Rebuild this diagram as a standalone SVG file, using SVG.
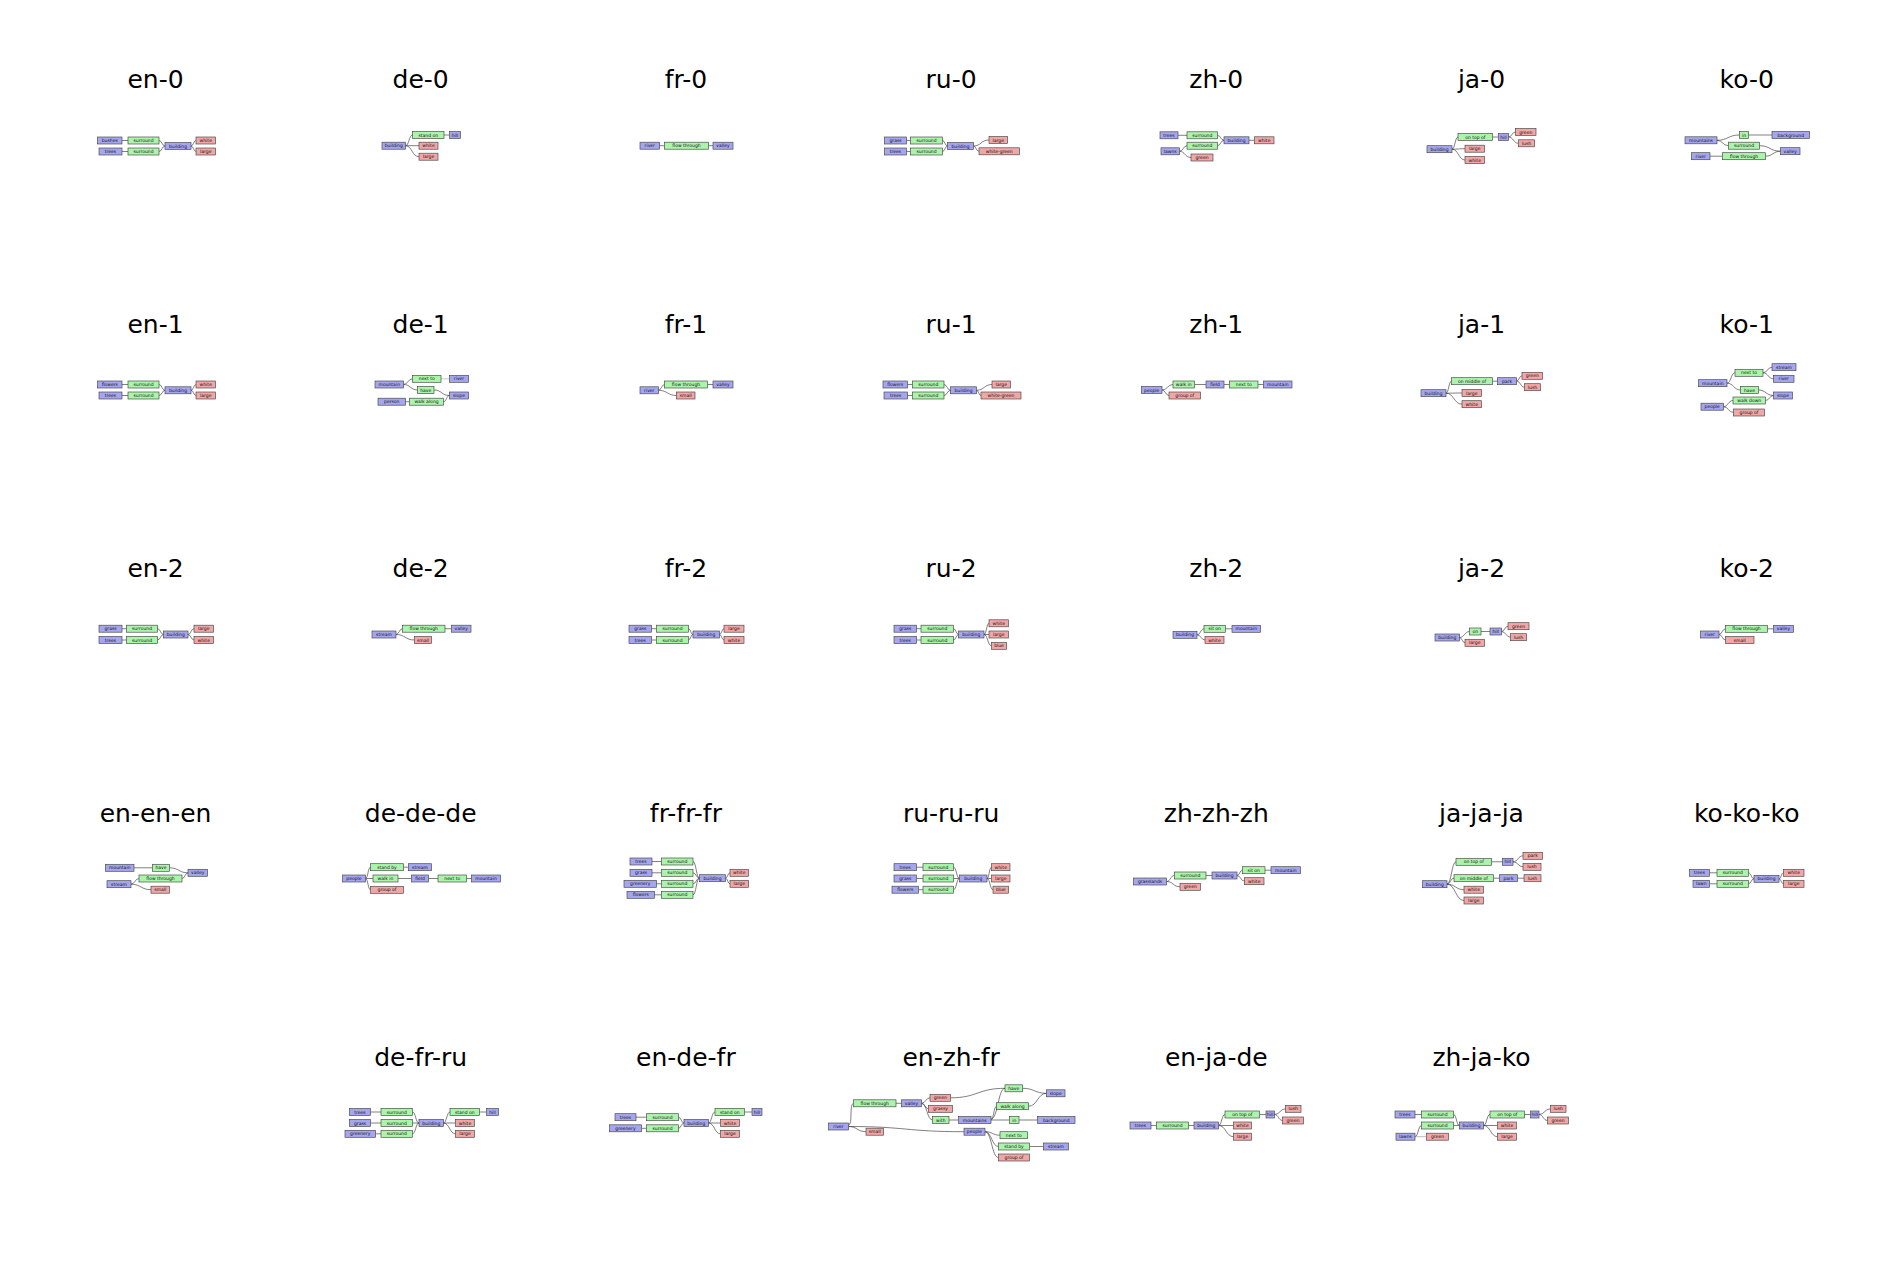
<svg xmlns="http://www.w3.org/2000/svg" width="1903" height="1269" viewBox="0 0 1903 1269">
<style>
.t{font-family:"DejaVu Sans",sans-serif;font-size:25px;text-anchor:middle;fill:#000}
.n rect{stroke:#444;stroke-width:.65}
.b rect{fill:#a6a6f0}
.g rect{fill:#abf5ab}
.r rect{fill:#f2a6a6}
.n text{font-family:"DejaVu Sans",sans-serif;font-size:4.5px;text-anchor:middle;fill:#111}
#connectors path{fill:none;stroke:#3a3a3a;stroke-width:.65}
</style>
<rect width="1903" height="1269" fill="#fff"/>
<g id="titles">
<text class="t" x="155.5" y="88">en-0</text><text class="t" x="420.7" y="88">de-0</text><text class="t" x="685.9" y="88">fr-0</text><text class="t" x="951.1" y="88">ru-0</text><text class="t" x="1216.3" y="88">zh-0</text><text class="t" x="1481.5" y="88">ja-0</text><text class="t" x="1746.7" y="88">ko-0</text>
<text class="t" x="155.5" y="332.5">en-1</text><text class="t" x="420.7" y="332.5">de-1</text><text class="t" x="685.9" y="332.5">fr-1</text><text class="t" x="951.1" y="332.5">ru-1</text><text class="t" x="1216.3" y="332.5">zh-1</text><text class="t" x="1481.5" y="332.5">ja-1</text><text class="t" x="1746.7" y="332.5">ko-1</text>
<text class="t" x="155.5" y="577">en-2</text><text class="t" x="420.7" y="577">de-2</text><text class="t" x="685.9" y="577">fr-2</text><text class="t" x="951.1" y="577">ru-2</text><text class="t" x="1216.3" y="577">zh-2</text><text class="t" x="1481.5" y="577">ja-2</text><text class="t" x="1746.7" y="577">ko-2</text>
<text class="t" x="155.5" y="821.5">en-en-en</text><text class="t" x="420.7" y="821.5">de-de-de</text><text class="t" x="685.9" y="821.5">fr-fr-fr</text><text class="t" x="951.1" y="821.5">ru-ru-ru</text><text class="t" x="1216.3" y="821.5">zh-zh-zh</text><text class="t" x="1481.5" y="821.5">ja-ja-ja</text><text class="t" x="1746.7" y="821.5">ko-ko-ko</text>
<text class="t" x="420.7" y="1066">de-fr-ru</text><text class="t" x="685.9" y="1066">en-de-fr</text><text class="t" x="951.1" y="1066">en-zh-fr</text><text class="t" x="1216.3" y="1066">en-ja-de</text><text class="t" x="1481.5" y="1066">zh-ja-ko</text>
</g>
<g id="connectors">
<path d="M122 140.5H128M122 151.5H128M159 140.5C162 140.5 162 146 165 146M159 151.5C162 151.5 162 146 165 146M191 146C193.5 146 193.5 140.5 196 140.5M191 146C193.5 146 193.5 151.5 196 151.5"/>
<path d="M405.5 145.7C409 145.7 409 135 412.5 135M444 135H449.5M405.5 145.7H419M405.5 145.7C412 145.7 412 156.7 419 156.7"/>
<path d="M659.5 145.7H664.5M708.5 145.7H713"/>
<path d="M906.5 140.5H910.5M906.5 151.5H910.5M942.5 140.5C945 140.5 945 146 947.5 146M942.5 151.5C945 151.5 945 146 947.5 146M973.5 146C981 146 981 140 989 140M973.5 146C976 146 976 151.3 979 151.3"/>
<path d="M1178 135.3H1187M1217.5 135.3C1220.7 135.3 1220.7 140.3 1224 140.3M1217.5 145.7C1220.7 145.7 1220.7 140.3 1224 140.3M1249 140.3H1254.5M1179.5 151.3C1183.2 151.3 1183.2 145.7 1187 145.7M1179.5 151.3C1185 151.3 1185 157.5 1191 157.5"/>
<path d="M1452 149.2C1455 149.2 1455 137 1458 137M1492.5 137H1498.5M1508.5 137C1512 137 1512 132 1515.5 132M1508.5 137C1513.5 137 1513.5 143.3 1518.5 143.3M1452 149.2C1458.5 149.2 1458.5 148.7 1465 148.7M1452 149.2C1458.5 149.2 1458.5 160 1465 160"/>
<path d="M1717 140.3C1728 140.3 1728 135 1739.5 135M1748.5 135H1772M1717 140.3C1722.7 140.3 1722.7 145.7 1728.5 145.7M1759.5 145.7C1770 145.7 1770 151.2 1780.5 151.2M1710 156.2H1722.5M1765.5 156.2C1773 156.2 1773 151.2 1780.5 151.2"/>
<path d="M122 384.5H128M122 395.5H128M159 384.5C162 384.5 162 390.3 165 390.3M159 395.5C162 395.5 162 390.3 165 390.3M191 390.3C193.5 390.3 193.5 384.5 196 384.5M191 390.3C193.5 390.3 193.5 395.5 196 395.5"/>
<path d="M403.5 384.5C408 384.5 408 378.8 412.5 378.8M403.5 384.5C410.5 384.5 410.5 390 417.5 390M434 390C441.7 390 441.7 395.5 449.5 395.5M405.5 401.7H409.5M443.5 401.7C446.5 401.7 446.5 395.5 449.5 395.5"/>
<path d="M441 378.8H449.5" style="stroke:#aaa"/>
<path d="M658.5 390.3C661.5 390.3 661.5 384.5 664.5 384.5M707.5 384.5H713M658.5 390.3C667.5 390.3 667.5 395.5 676.5 395.5"/>
<path d="M907.5 384.5H912.5M907.5 395.5H912.5M944 384.5C947.2 384.5 947.2 390.3 950.5 390.3M944 395.5C947.2 395.5 947.2 390.3 950.5 390.3M976.5 390.3C984.2 390.3 984.2 384.5 992 384.5M976.5 390.3C978.7 390.3 978.7 395.5 981 395.5"/>
<path d="M1162 390C1167.5 390 1167.5 384.5 1173 384.5M1194.5 384.5H1206M1224 384.5H1229.5M1258 384.5H1263.5M1162 390C1165.5 390 1165.5 395.5 1169 395.5"/>
<path d="M1446 393.2C1448.7 393.2 1448.7 381.2 1451.5 381.2M1492.5 381.2H1497.5M1516.5 381.2C1519.2 381.2 1519.2 375.8 1522 375.8M1516.5 381.2C1520.5 381.2 1520.5 387.2 1524.5 387.2M1446 393.2C1454 393.2 1454 393 1462 393M1446 393.2C1454 393.2 1454 404.2 1462 404.2"/>
<path d="M1727 383.2C1731 383.2 1731 372.8 1735 372.8M1763 372.8C1767.5 372.8 1767.5 367.2 1772 367.2M1763 372.8C1768.2 372.8 1768.2 378.8 1773.5 378.8M1727 383.2C1733.7 383.2 1733.7 390 1740.5 390M1758.5 390C1766 390 1766 395.5 1773.5 395.5M1723.5 406.7C1728.2 406.7 1728.2 400.5 1733 400.5M1765.5 400.5C1769.5 400.5 1769.5 395.5 1773.5 395.5M1723.5 406.7C1728.5 406.7 1728.5 412.5 1733.5 412.5"/>
<path d="M122 628.7H126.5M122 640H126.5M157.5 628.7C160.5 628.7 160.5 634.5 163.5 634.5M157.5 640C160.5 640 160.5 634.5 163.5 634.5M188 634.5C191 634.5 191 628.7 194 628.7M188 634.5C191 634.5 191 640 194 640"/>
<path d="M396 634.5C399.2 634.5 399.2 628.7 402.5 628.7M445 628.7H451.5M396 634.5C405.2 634.5 405.2 640 414.5 640"/>
<path d="M651.5 628.7H656.5M651.5 640H656.5M688.5 628.7C690.7 628.7 690.7 634.5 693 634.5M688.5 640C690.7 640 690.7 634.5 693 634.5M719.5 634.5C721.7 634.5 721.7 628.7 724 628.7M719.5 634.5C721.7 634.5 721.7 640 724 640"/>
<path d="M916.5 628.7H921M916.5 640H921M953.5 628.7C956 628.7 956 634.5 958.5 634.5M953.5 640C956 640 956 634.5 958.5 634.5M984 634.5C986.5 634.5 986.5 623.3 989 623.3M984 634.5H989M984 634.5C987.7 634.5 987.7 645.8 991.5 645.8"/>
<path d="M1197 634.8C1200.5 634.8 1200.5 628.8 1204 628.8M1225.5 628.8H1232M1197 634.8C1201 634.8 1201 640 1205 640"/>
<path d="M1459.5 637.5C1464.5 637.5 1464.5 631.5 1469.5 631.5M1481 631.5H1490M1501.5 631.5C1504.7 631.5 1504.7 626.2 1508 626.2M1501.5 631.5C1506 631.5 1506 637.2 1510.5 637.2M1459.5 637.5C1462.2 637.5 1462.2 642.8 1465 642.8"/>
<path d="M1719 634.5C1722.2 634.5 1722.2 628.8 1725.5 628.8M1767.5 628.8H1773.5M1719 634.5C1722.2 634.5 1722.2 640 1725.5 640"/>
<path d="M134 867.8H152.5M169.5 867.8C178.7 867.8 178.7 872.8 188 872.8M131 884.2C135 884.2 135 878.5 139 878.5M182 878.5C185 878.5 185 872.8 188 872.8M131 884.2C141 884.2 141 889.7 151 889.7"/>
<path d="M365.5 878.5C368 878.5 368 867.2 370.5 867.2M403.5 867.2H408.5M365.5 878.5H373M398 878.5H411.5M428.5 878.5H438M466.5 878.5H471.5M365.5 878.5C368 878.5 368 889.8 370.5 889.8"/>
<path d="M652 861.5H661.5M652 872.8H661.5M656.5 883.8H661.5M654.5 894.8H661.5M693 861.5C696.2 861.5 696.2 878.2 699.5 878.2M693 872.8C696.2 872.8 696.2 878.2 699.5 878.2M693 883.8C696.2 883.8 696.2 878.2 699.5 878.2M693 894.8C696.2 894.8 696.2 878.2 699.5 878.2M725.5 878.2C727.7 878.2 727.7 872.8 730 872.8M725.5 878.2C727.7 878.2 727.7 883.8 730 883.8"/>
<path d="M916.5 867.2H923M916.5 878.5H923M918.5 889.7H923M953.5 867.2C956.5 867.2 956.5 878.5 959.5 878.5M953.5 878.5H959.5M953.5 889.7C956.5 889.7 956.5 878.5 959.5 878.5M987 878.5C989.2 878.5 989.2 867.2 991.5 867.2M987 878.5H991.5M987 878.5C990 878.5 990 889.7 993 889.7"/>
<path d="M1166.5 881.5C1170.5 881.5 1170.5 875.5 1174.5 875.5M1206 875.5H1212M1237 875.5C1239.7 875.5 1239.7 870.2 1242.5 870.2M1265 870.2H1271M1237 875.5C1240.7 875.5 1240.7 881.2 1244.5 881.2M1166.5 881.5C1173.2 881.5 1173.2 886.8 1180 886.8"/>
<path d="M1447 884.2C1451.5 884.2 1451.5 861.8 1456 861.8M1491.5 861.8H1502.5M1513 861.8C1518 861.8 1518 855.8 1523 855.8M1513 861.8C1518 861.8 1518 866.8 1523 866.8M1447 884.2C1450.5 884.2 1450.5 878.2 1454 878.2M1493.5 878.2H1499.5M1517.5 878.2H1524M1447 884.2C1455.5 884.2 1455.5 889.7 1464 889.7M1447 884.2C1455.5 884.2 1455.5 900.5 1464 900.5"/>
<path d="M1709.5 872.8H1717M1709.5 883.8H1717M1748.5 872.8C1751.2 872.8 1751.2 878.8 1754 878.8M1748.5 883.8C1751.2 883.8 1751.2 878.8 1754 878.8M1779 878.8C1781.2 878.8 1781.2 872.8 1783.5 872.8M1779 878.8C1781.2 878.8 1781.2 883.8 1783.5 883.8"/>
<path d="M370.5 1112H381M370.5 1123H381M375.5 1133.8H381M412.5 1112C415.7 1112 415.7 1123 419 1123M412.5 1123H419M412.5 1133.8C415.7 1133.8 415.7 1123 419 1123M443.5 1123C446.7 1123 446.7 1112 450 1112M479.5 1112H486.5M443.5 1123H455.5M443.5 1123C449.5 1123 449.5 1133.8 455.5 1133.8"/>
<path d="M636 1117.2H646.5M641.5 1128.3H646.5M678.5 1117.2C681.2 1117.2 681.2 1123 684 1123M678.5 1128.3C681.2 1128.3 681.2 1123 684 1123M708.5 1123C711.7 1123 711.7 1112 715 1112M744.5 1112H752M708.5 1123H720.5M708.5 1123C714.5 1123 714.5 1133.8 720.5 1133.8"/>
<path d="M848.5 1125C853 1125 849 1103.3 853.5 1103.3M896 1103.3H901.5M921.5 1103.3C925.7 1103.3 925.7 1097.8 930 1097.8M921.5 1103.3C925 1103.3 925 1108.8 928.5 1108.8M921.5 1103.3C927 1103.3 927 1120 932.5 1120M949 1120H958.5M950.5 1097.8C977.7 1097.8 977.7 1088.3 1005 1088.3M1022.5 1088.3C1034.5 1088.3 1034.5 1093.3 1046.5 1093.3M1028.5 1106.2C1037.5 1106.2 1037.5 1093.3 1046.5 1093.3M991 1120C993.7 1120 993.7 1106.2 996.5 1106.2M991 1119C998 1119 998 1088.3 1005 1088.3M1019 1120H1037.5M991 1120H1009.5M848.5 1126.5C857.2 1126.5 857.2 1131.7 866 1131.7M848.5 1126.5C906 1126.5 906 1131.7 964 1131.7M985 1131.7C992.5 1131.7 992.5 1135.2 1000 1135.2M985 1131.7C991.7 1131.7 991.7 1146.5 998.5 1146.5M985 1131.7C991.7 1131.7 991.7 1157.5 998.5 1157.5M1029.5 1146.5H1043.5"/>
<path d="M1151 1125.5H1156.5M1188.5 1125.5H1194M1218.5 1125.5C1221.7 1125.5 1221.7 1114.5 1225 1114.5M1259.5 1114.5H1266M1274.5 1114.5C1280 1114.5 1280 1108.8 1285.5 1108.8M1274.5 1114.5C1278.5 1114.5 1278.5 1120.5 1282.5 1120.5M1218.5 1125.5H1233.5M1218.5 1125.5C1226 1125.5 1226 1136.7 1233.5 1136.7"/>
<path d="M1415 1114.5H1421.5M1453.5 1114.5C1456.5 1114.5 1456.5 1125.5 1459.5 1125.5M1453.5 1125.5H1459.5M1415 1136.7C1418.2 1136.7 1418.2 1125.5 1421.5 1125.5M1483.5 1125.5C1486.7 1125.5 1486.7 1114.5 1490 1114.5M1524.5 1114.5H1530.5M1539 1114.5C1544.7 1114.5 1544.7 1108.8 1550.5 1108.8M1539 1114.5C1543.2 1114.5 1543.2 1120.5 1547.5 1120.5M1483.5 1125.5H1497.5M1483.5 1125.5C1490.5 1125.5 1490.5 1136.7 1497.5 1136.7"/>
<path d="M1415 1136.7H1426.5" style="stroke:#999"/>
</g>
<g id="nodes">
<g id="en0-bushes" class="n b"><rect x="97.5" y="137" width="24.5" height="7"/><text x="109.75" y="142.1">bushes</text></g>
<g id="en0-trees" class="n b"><rect x="99" y="148" width="23" height="7"/><text x="110.5" y="153.1">trees</text></g>
<g id="en0-surround1" class="n g"><rect x="128" y="137" width="31" height="7"/><text x="143.5" y="142.1">surround</text></g>
<g id="en0-surround2" class="n g"><rect x="128" y="148" width="31" height="7"/><text x="143.5" y="153.1">surround</text></g>
<g id="en0-building" class="n b"><rect x="165" y="142.5" width="26" height="7"/><text x="178" y="147.6">building</text></g>
<g id="en0-white" class="n r"><rect x="196" y="137" width="19.5" height="7"/><text x="205.75" y="142.1">white</text></g>
<g id="en0-large" class="n r"><rect x="196" y="148" width="19.5" height="7"/><text x="205.75" y="153.1">large</text></g>

<g id="de0-standon" class="n g"><rect x="412.5" y="131.5" width="31.5" height="7"/><text x="428.25" y="136.6">stand on</text></g>
<g id="de0-hill" class="n b"><rect x="449.5" y="131.5" width="11" height="7"/><text x="455" y="136.6">hill</text></g>
<g id="de0-building" class="n b"><rect x="382" y="142.2" width="23.5" height="7"/><text x="393.75" y="147.3">building</text></g>
<g id="de0-white" class="n r"><rect x="419" y="142.2" width="19" height="7"/><text x="428.5" y="147.3">white</text></g>
<g id="de0-large" class="n r"><rect x="419" y="153.2" width="19" height="7"/><text x="428.5" y="158.3">large</text></g>

<g id="fr0-river" class="n b"><rect x="640" y="142.2" width="19.5" height="7"/><text x="649.75" y="147.3">river</text></g>
<g id="fr0-flowthrough" class="n g"><rect x="664.5" y="142.2" width="44" height="7"/><text x="686.5" y="147.3">flow through</text></g>
<g id="fr0-valley" class="n b"><rect x="713" y="142.2" width="20" height="7"/><text x="723" y="147.3">valley</text></g>

<g id="ru0-grass" class="n b"><rect x="884.5" y="137" width="22" height="7"/><text x="895.5" y="142.1">grass</text></g>
<g id="ru0-trees" class="n b"><rect x="884.5" y="148" width="22" height="7"/><text x="895.5" y="153.1">trees</text></g>
<g id="ru0-surround1" class="n g"><rect x="910.5" y="137" width="32" height="7"/><text x="926.5" y="142.1">surround</text></g>
<g id="ru0-surround2" class="n g"><rect x="910.5" y="148" width="32" height="7"/><text x="926.5" y="153.1">surround</text></g>
<g id="ru0-building" class="n b"><rect x="947.5" y="142.5" width="26" height="7"/><text x="960.5" y="147.6">building</text></g>
<g id="ru0-large" class="n r"><rect x="989" y="136.5" width="18.5" height="7"/><text x="998.25" y="141.6">large</text></g>
<g id="ru0-whitegreen" class="n r"><rect x="979" y="147.8" width="40.5" height="7"/><text x="999.25" y="152.9">white-green</text></g>

<g id="zh0-trees" class="n b"><rect x="1160" y="131.8" width="18" height="7"/><text x="1169" y="136.9">trees</text></g>
<g id="zh0-surround1" class="n g"><rect x="1187" y="131.8" width="30.5" height="7"/><text x="1202.25" y="136.9">surround</text></g>
<g id="zh0-surround2" class="n g"><rect x="1187" y="142.2" width="30.5" height="7"/><text x="1202.25" y="147.3">surround</text></g>
<g id="zh0-building" class="n b"><rect x="1224" y="136.8" width="25" height="7"/><text x="1236.5" y="141.9">building</text></g>
<g id="zh0-white" class="n r"><rect x="1254.5" y="136.8" width="19.5" height="7"/><text x="1264.25" y="141.9">white</text></g>
<g id="zh0-lawns" class="n b"><rect x="1161" y="147.8" width="18.5" height="7"/><text x="1170.25" y="152.9">lawns</text></g>
<g id="zh0-green" class="n r"><rect x="1191" y="154" width="22" height="7"/><text x="1202" y="159.1">green</text></g>

<g id="ja0-ontopof" class="n g"><rect x="1458" y="133.5" width="34.5" height="7"/><text x="1475.25" y="138.6">on top of</text></g>
<g id="ja0-hill" class="n b"><rect x="1498.5" y="133.5" width="10" height="7"/><text x="1503.5" y="138.6">hill</text></g>
<g id="ja0-green" class="n r"><rect x="1515.5" y="128.5" width="20.5" height="7"/><text x="1525.75" y="133.6">green</text></g>
<g id="ja0-lush" class="n r"><rect x="1518.5" y="139.8" width="16" height="7"/><text x="1526.5" y="144.9">lush</text></g>
<g id="ja0-building" class="n b"><rect x="1427" y="145.7" width="25" height="7"/><text x="1439.5" y="150.8">building</text></g>
<g id="ja0-large" class="n r"><rect x="1465" y="145.2" width="19.5" height="7"/><text x="1474.75" y="150.3">large</text></g>
<g id="ja0-white" class="n r"><rect x="1465" y="156.5" width="19.5" height="7"/><text x="1474.75" y="161.6">white</text></g>

<g id="ko0-in" class="n g"><rect x="1739.5" y="131.5" width="9" height="7"/><text x="1744" y="136.6">in</text></g>
<g id="ko0-background" class="n b"><rect x="1772" y="131.5" width="37.5" height="7"/><text x="1790.75" y="136.6">background</text></g>
<g id="ko0-mountains" class="n b"><rect x="1685" y="136.8" width="32" height="7"/><text x="1701" y="141.9">mountains</text></g>
<g id="ko0-surround" class="n g"><rect x="1728.5" y="142.2" width="31" height="7"/><text x="1744" y="147.3">surround</text></g>
<g id="ko0-valley" class="n b"><rect x="1780.5" y="147.7" width="19.5" height="7"/><text x="1790.25" y="152.8">valley</text></g>
<g id="ko0-river" class="n b"><rect x="1691.5" y="152.7" width="18.5" height="7"/><text x="1700.75" y="157.8">river</text></g>
<g id="ko0-flowthrough" class="n g"><rect x="1722.5" y="152.7" width="43" height="7"/><text x="1744" y="157.8">flow through</text></g>

<g id="en1-flowers" class="n b"><rect x="97.5" y="381" width="24.5" height="7"/><text x="109.75" y="386.1">flowers</text></g>
<g id="en1-trees" class="n b"><rect x="99" y="392" width="23" height="7"/><text x="110.5" y="397.1">trees</text></g>
<g id="en1-surround1" class="n g"><rect x="128" y="381" width="31" height="7"/><text x="143.5" y="386.1">surround</text></g>
<g id="en1-surround2" class="n g"><rect x="128" y="392" width="31" height="7"/><text x="143.5" y="397.1">surround</text></g>
<g id="en1-building" class="n b"><rect x="165" y="386.8" width="26" height="7"/><text x="178" y="391.9">building</text></g>
<g id="en1-white" class="n r"><rect x="196" y="381" width="19.5" height="7"/><text x="205.75" y="386.1">white</text></g>
<g id="en1-large" class="n r"><rect x="196" y="392" width="19.5" height="7"/><text x="205.75" y="397.1">large</text></g>

<g id="de1-nextto" class="n g"><rect x="412.5" y="375.3" width="28.5" height="7"/><text x="426.75" y="380.4">next to</text></g>
<g id="de1-river" class="n b"><rect x="449.5" y="375.3" width="19" height="7"/><text x="459" y="380.4">river</text></g>
<g id="de1-mountain" class="n b"><rect x="375" y="381" width="28.5" height="7"/><text x="389.25" y="386.1">mountain</text></g>
<g id="de1-have" class="n g"><rect x="417.5" y="386.5" width="16.5" height="7"/><text x="425.75" y="391.6">have</text></g>
<g id="de1-slope" class="n b"><rect x="449.5" y="392" width="19" height="7"/><text x="459" y="397.1">slope</text></g>
<g id="de1-person" class="n b"><rect x="378" y="398.2" width="27.5" height="7"/><text x="391.75" y="403.3">person</text></g>
<g id="de1-walkalong" class="n g"><rect x="409.5" y="398.2" width="34" height="7"/><text x="426.5" y="403.3">walk along</text></g>

<g id="fr1-flowthrough" class="n g"><rect x="664.5" y="381" width="43" height="7"/><text x="686" y="386.1">flow through</text></g>
<g id="fr1-valley" class="n b"><rect x="713" y="381" width="20" height="7"/><text x="723" y="386.1">valley</text></g>
<g id="fr1-river" class="n b"><rect x="640" y="386.8" width="18.5" height="7"/><text x="649.25" y="391.9">river</text></g>
<g id="fr1-small" class="n r"><rect x="676.5" y="392" width="18.5" height="7"/><text x="685.75" y="397.1">small</text></g>

<g id="ru1-flowers" class="n b"><rect x="883" y="381" width="24.5" height="7"/><text x="895.25" y="386.1">flowers</text></g>
<g id="ru1-trees" class="n b"><rect x="884" y="392" width="23.5" height="7"/><text x="895.75" y="397.1">trees</text></g>
<g id="ru1-surround1" class="n g"><rect x="912.5" y="381" width="31.5" height="7"/><text x="928.25" y="386.1">surround</text></g>
<g id="ru1-surround2" class="n g"><rect x="912.5" y="392" width="31.5" height="7"/><text x="928.25" y="397.1">surround</text></g>
<g id="ru1-building" class="n b"><rect x="950.5" y="386.8" width="26" height="7"/><text x="963.5" y="391.9">building</text></g>
<g id="ru1-large" class="n r"><rect x="992" y="381" width="18.5" height="7"/><text x="1001.25" y="386.1">large</text></g>
<g id="ru1-whitegreen" class="n r"><rect x="981" y="392" width="40" height="7"/><text x="1001" y="397.1">white-green</text></g>

<g id="zh1-people" class="n b"><rect x="1141.5" y="386.5" width="20.5" height="7"/><text x="1151.75" y="391.6">people</text></g>
<g id="zh1-walkin" class="n g"><rect x="1173" y="381" width="21.5" height="7"/><text x="1183.75" y="386.1">walk in</text></g>
<g id="zh1-groupof" class="n r"><rect x="1169" y="392" width="31.5" height="7"/><text x="1184.75" y="397.1">group of</text></g>
<g id="zh1-field" class="n b"><rect x="1206" y="381" width="18" height="7"/><text x="1215" y="386.1">field</text></g>
<g id="zh1-nextto" class="n g"><rect x="1229.5" y="381" width="28.5" height="7"/><text x="1243.75" y="386.1">next to</text></g>
<g id="zh1-mountain" class="n b"><rect x="1263.5" y="381" width="28.5" height="7"/><text x="1277.75" y="386.1">mountain</text></g>

<g id="ja1-onmiddleof" class="n g"><rect x="1451.5" y="377.7" width="41" height="7"/><text x="1472" y="382.8">on middle of</text></g>
<g id="ja1-park" class="n b"><rect x="1497.5" y="377.7" width="19" height="7"/><text x="1507" y="382.8">park</text></g>
<g id="ja1-green" class="n r"><rect x="1522" y="372.3" width="20.5" height="7"/><text x="1532.25" y="377.4">green</text></g>
<g id="ja1-lush" class="n r"><rect x="1524.5" y="383.7" width="16" height="7"/><text x="1532.5" y="388.8">lush</text></g>
<g id="ja1-building" class="n b"><rect x="1421" y="389.7" width="25" height="7"/><text x="1433.5" y="394.8">building</text></g>
<g id="ja1-large" class="n r"><rect x="1462" y="389.5" width="19.5" height="7"/><text x="1471.75" y="394.6">large</text></g>
<g id="ja1-white" class="n r"><rect x="1462" y="400.7" width="19.5" height="7"/><text x="1471.75" y="405.8">white</text></g>

<g id="ko1-nextto" class="n g"><rect x="1735" y="369.3" width="28" height="7"/><text x="1749" y="374.4">next to</text></g>
<g id="ko1-stream" class="n b"><rect x="1772" y="363.7" width="24" height="7"/><text x="1784" y="368.8">stream</text></g>
<g id="ko1-river" class="n b"><rect x="1773.5" y="375.3" width="20.5" height="7"/><text x="1783.75" y="380.4">river</text></g>
<g id="ko1-mountain" class="n b"><rect x="1698.5" y="379.7" width="28.5" height="7"/><text x="1712.75" y="384.8">mountain</text></g>
<g id="ko1-have" class="n g"><rect x="1740.5" y="386.5" width="18" height="7"/><text x="1749.5" y="391.6">have</text></g>
<g id="ko1-slope" class="n b"><rect x="1773.5" y="392" width="19" height="7"/><text x="1783" y="397.1">slope</text></g>
<g id="ko1-walkdown" class="n g"><rect x="1733" y="397" width="32.5" height="7"/><text x="1749.25" y="402.1">walk down</text></g>
<g id="ko1-people" class="n b"><rect x="1701" y="403.2" width="22.5" height="7"/><text x="1712.25" y="408.3">people</text></g>
<g id="ko1-groupof" class="n r"><rect x="1733.5" y="409" width="31" height="7"/><text x="1749" y="414.1">group of</text></g>

<g id="en2-grass" class="n b"><rect x="99" y="625.2" width="23" height="7"/><text x="110.5" y="630.3">grass</text></g>
<g id="en2-trees" class="n b"><rect x="99" y="636.5" width="23" height="7"/><text x="110.5" y="641.6">trees</text></g>
<g id="en2-surround1" class="n g"><rect x="126.5" y="625.2" width="31" height="7"/><text x="142" y="630.3">surround</text></g>
<g id="en2-surround2" class="n g"><rect x="126.5" y="636.5" width="31" height="7"/><text x="142" y="641.6">surround</text></g>
<g id="en2-building" class="n b"><rect x="163.5" y="631" width="24.5" height="7"/><text x="175.75" y="636.1">building</text></g>
<g id="en2-large" class="n r"><rect x="194" y="625.2" width="19.5" height="7"/><text x="203.75" y="630.3">large</text></g>
<g id="en2-white" class="n r"><rect x="194" y="636.5" width="19.5" height="7"/><text x="203.75" y="641.6">white</text></g>

<g id="de2-flowthrough" class="n g"><rect x="402.5" y="625.2" width="42.5" height="7"/><text x="423.75" y="630.3">flow through</text></g>
<g id="de2-valley" class="n b"><rect x="451.5" y="625.2" width="19.5" height="7"/><text x="461.25" y="630.3">valley</text></g>
<g id="de2-stream" class="n b"><rect x="372" y="631" width="24" height="7"/><text x="384" y="636.1">stream</text></g>
<g id="de2-small" class="n r"><rect x="414.5" y="636.5" width="17" height="7"/><text x="423" y="641.6">small</text></g>

<g id="fr2-grass" class="n b"><rect x="629" y="625.2" width="22.5" height="7"/><text x="640.25" y="630.3">grass</text></g>
<g id="fr2-trees" class="n b"><rect x="629" y="636.5" width="22.5" height="7"/><text x="640.25" y="641.6">trees</text></g>
<g id="fr2-surround1" class="n g"><rect x="656.5" y="625.2" width="32" height="7"/><text x="672.5" y="630.3">surround</text></g>
<g id="fr2-surround2" class="n g"><rect x="656.5" y="636.5" width="32" height="7"/><text x="672.5" y="641.6">surround</text></g>
<g id="fr2-building" class="n b"><rect x="693" y="631" width="26.5" height="7"/><text x="706.25" y="636.1">building</text></g>
<g id="fr2-large" class="n r"><rect x="724" y="625.2" width="20" height="7"/><text x="734" y="630.3">large</text></g>
<g id="fr2-white" class="n r"><rect x="724" y="636.5" width="20" height="7"/><text x="734" y="641.6">white</text></g>

<g id="ru2-grass" class="n b"><rect x="894" y="625.2" width="22.5" height="7"/><text x="905.25" y="630.3">grass</text></g>
<g id="ru2-trees" class="n b"><rect x="894" y="636.5" width="22.5" height="7"/><text x="905.25" y="641.6">trees</text></g>
<g id="ru2-surround1" class="n g"><rect x="921" y="625.2" width="32.5" height="7"/><text x="937.25" y="630.3">surround</text></g>
<g id="ru2-surround2" class="n g"><rect x="921" y="636.5" width="32.5" height="7"/><text x="937.25" y="641.6">surround</text></g>
<g id="ru2-building" class="n b"><rect x="958.5" y="631" width="25.5" height="7"/><text x="971.25" y="636.1">building</text></g>
<g id="ru2-white" class="n r"><rect x="989" y="619.8" width="19.5" height="7"/><text x="998.75" y="624.9">white</text></g>
<g id="ru2-large" class="n r"><rect x="989" y="631" width="19.5" height="7"/><text x="998.75" y="636.1">large</text></g>
<g id="ru2-blue" class="n r"><rect x="991.5" y="642.3" width="15" height="7"/><text x="999" y="647.4">blue</text></g>

<g id="zh2-siton" class="n g"><rect x="1204" y="625.3" width="21.5" height="7"/><text x="1214.75" y="630.4">sit on</text></g>
<g id="zh2-mountain" class="n b"><rect x="1232" y="625.3" width="28.5" height="7"/><text x="1246.25" y="630.4">mountain</text></g>
<g id="zh2-building" class="n b"><rect x="1173" y="631.3" width="24" height="7"/><text x="1185" y="636.4">building</text></g>
<g id="zh2-white" class="n r"><rect x="1205" y="636.5" width="19" height="7"/><text x="1214.5" y="641.6">white</text></g>

<g id="ja2-on" class="n g"><rect x="1469.5" y="628" width="11.5" height="7"/><text x="1475.25" y="633.1">on</text></g>
<g id="ja2-hill" class="n b"><rect x="1490" y="628" width="11.5" height="7"/><text x="1495.75" y="633.1">hill</text></g>
<g id="ja2-green" class="n r"><rect x="1508" y="622.7" width="21" height="7"/><text x="1518.5" y="627.8">green</text></g>
<g id="ja2-lush" class="n r"><rect x="1510.5" y="633.7" width="16" height="7"/><text x="1518.5" y="638.8">lush</text></g>
<g id="ja2-building" class="n b"><rect x="1435" y="634" width="24.5" height="7"/><text x="1447.25" y="639.1">building</text></g>
<g id="ja2-large" class="n r"><rect x="1465" y="639.3" width="19.5" height="7"/><text x="1474.75" y="644.4">large</text></g>

<g id="ko2-flowthrough" class="n g"><rect x="1725.5" y="625.3" width="42" height="7"/><text x="1746.5" y="630.4">flow through</text></g>
<g id="ko2-valley" class="n b"><rect x="1773.5" y="625.3" width="20" height="7"/><text x="1783.5" y="630.4">valley</text></g>
<g id="ko2-river" class="n b"><rect x="1700.5" y="631" width="18.5" height="7"/><text x="1709.75" y="636.1">river</text></g>
<g id="ko2-small" class="n r"><rect x="1725.5" y="636.5" width="28.5" height="7"/><text x="1739.75" y="641.6">small</text></g>

<g id="enenen-mountain" class="n b"><rect x="105.5" y="864.3" width="28.5" height="7"/><text x="119.75" y="869.4">mountain</text></g>
<g id="enenen-have" class="n g"><rect x="152.5" y="864.3" width="17" height="7"/><text x="161" y="869.4">have</text></g>
<g id="enenen-valley" class="n b"><rect x="188" y="869.3" width="19.5" height="7"/><text x="197.75" y="874.4">valley</text></g>
<g id="enenen-flowthrough" class="n g"><rect x="139" y="875" width="43" height="7"/><text x="160.5" y="880.1">flow through</text></g>
<g id="enenen-stream" class="n b"><rect x="107" y="880.7" width="24" height="7"/><text x="119" y="885.8">stream</text></g>
<g id="enenen-small" class="n r"><rect x="151" y="886.2" width="18.5" height="7"/><text x="160.25" y="891.3">small</text></g>

<g id="dedede-standby" class="n g"><rect x="370.5" y="863.7" width="33" height="7"/><text x="387" y="868.8">stand by</text></g>
<g id="dedede-stream" class="n b"><rect x="408.5" y="863.7" width="23" height="7"/><text x="420" y="868.8">stream</text></g>
<g id="dedede-people" class="n b"><rect x="342.5" y="875" width="23" height="7"/><text x="354" y="880.1">people</text></g>
<g id="dedede-walkin" class="n g"><rect x="373" y="875" width="25" height="7"/><text x="385.5" y="880.1">walk in</text></g>
<g id="dedede-field" class="n b"><rect x="411.5" y="875" width="17" height="7"/><text x="420" y="880.1">field</text></g>
<g id="dedede-nextto" class="n g"><rect x="438" y="875" width="28.5" height="7"/><text x="452.25" y="880.1">next to</text></g>
<g id="dedede-mountain" class="n b"><rect x="471.5" y="875" width="29" height="7"/><text x="486" y="880.1">mountain</text></g>
<g id="dedede-groupof" class="n r"><rect x="370.5" y="886.3" width="33" height="7"/><text x="387" y="891.4">group of</text></g>

<g id="frfrfr-trees" class="n b"><rect x="630" y="858" width="22" height="7"/><text x="641" y="863.1">trees</text></g>
<g id="frfrfr-grass" class="n b"><rect x="630" y="869.3" width="22" height="7"/><text x="641" y="874.4">grass</text></g>
<g id="frfrfr-greenery" class="n b"><rect x="624" y="880.3" width="32.5" height="7"/><text x="640.25" y="885.4">greenery</text></g>
<g id="frfrfr-flowers" class="n b"><rect x="627" y="891.3" width="27.5" height="7"/><text x="640.75" y="896.4">flowers</text></g>
<g id="frfrfr-surround1" class="n g"><rect x="661.5" y="858" width="31.5" height="7"/><text x="677.25" y="863.1">surround</text></g>
<g id="frfrfr-surround2" class="n g"><rect x="661.5" y="869.3" width="31.5" height="7"/><text x="677.25" y="874.4">surround</text></g>
<g id="frfrfr-surround3" class="n g"><rect x="661.5" y="880.3" width="31.5" height="7"/><text x="677.25" y="885.4">surround</text></g>
<g id="frfrfr-surround4" class="n g"><rect x="661.5" y="891.3" width="31.5" height="7"/><text x="677.25" y="896.4">surround</text></g>
<g id="frfrfr-building" class="n b"><rect x="699.5" y="874.7" width="26" height="7"/><text x="712.5" y="879.8">building</text></g>
<g id="frfrfr-white" class="n r"><rect x="730" y="869.3" width="18.5" height="7"/><text x="739.25" y="874.4">white</text></g>
<g id="frfrfr-large" class="n r"><rect x="730" y="880.3" width="18.5" height="7"/><text x="739.25" y="885.4">large</text></g>

<g id="rururu-trees" class="n b"><rect x="894" y="863.7" width="22.5" height="7"/><text x="905.25" y="868.8">trees</text></g>
<g id="rururu-grass" class="n b"><rect x="894" y="875" width="22.5" height="7"/><text x="905.25" y="880.1">grass</text></g>
<g id="rururu-flowers" class="n b"><rect x="892" y="886.2" width="26.5" height="7"/><text x="905.25" y="891.3">flowers</text></g>
<g id="rururu-surround1" class="n g"><rect x="923" y="863.7" width="30.5" height="7"/><text x="938.25" y="868.8">surround</text></g>
<g id="rururu-surround2" class="n g"><rect x="923" y="875" width="30.5" height="7"/><text x="938.25" y="880.1">surround</text></g>
<g id="rururu-surround3" class="n g"><rect x="923" y="886.2" width="30.5" height="7"/><text x="938.25" y="891.3">surround</text></g>
<g id="rururu-building" class="n b"><rect x="959.5" y="875" width="27.5" height="7"/><text x="973.25" y="880.1">building</text></g>
<g id="rururu-white" class="n r"><rect x="991.5" y="863.7" width="18.5" height="7"/><text x="1000.75" y="868.8">white</text></g>
<g id="rururu-large" class="n r"><rect x="991.5" y="875" width="18.5" height="7"/><text x="1000.75" y="880.1">large</text></g>
<g id="rururu-blue" class="n r"><rect x="993" y="886.2" width="15.5" height="7"/><text x="1000.75" y="891.3">blue</text></g>

<g id="zhzhzh-siton" class="n g"><rect x="1242.5" y="866.7" width="22.5" height="7"/><text x="1253.75" y="871.8">sit on</text></g>
<g id="zhzhzh-mountain" class="n b"><rect x="1271" y="866.7" width="29.5" height="7"/><text x="1285.75" y="871.8">mountain</text></g>
<g id="zhzhzh-surround" class="n g"><rect x="1174.5" y="872" width="31.5" height="7"/><text x="1190.25" y="877.1">surround</text></g>
<g id="zhzhzh-building" class="n b"><rect x="1212" y="872" width="25" height="7"/><text x="1224.5" y="877.1">building</text></g>
<g id="zhzhzh-white" class="n r"><rect x="1244.5" y="877.7" width="19.5" height="7"/><text x="1254.25" y="882.8">white</text></g>
<g id="zhzhzh-grasslands" class="n b"><rect x="1133.5" y="878" width="33" height="7"/><text x="1150" y="883.1">grasslands</text></g>
<g id="zhzhzh-green" class="n r"><rect x="1180" y="883.3" width="20.5" height="7"/><text x="1190.25" y="888.4">green</text></g>

<g id="jajaja-ontopof" class="n g"><rect x="1456" y="858.3" width="35.5" height="7"/><text x="1473.75" y="863.4">on top of</text></g>
<g id="jajaja-hill" class="n b"><rect x="1502.5" y="858.3" width="10.5" height="7"/><text x="1507.75" y="863.4">hill</text></g>
<g id="jajaja-park1" class="n r"><rect x="1523" y="852.3" width="19.5" height="7"/><text x="1532.75" y="857.4">park</text></g>
<g id="jajaja-lush1" class="n r"><rect x="1523" y="863.3" width="18" height="7"/><text x="1532" y="868.4">lush</text></g>
<g id="jajaja-onmiddleof" class="n g"><rect x="1454" y="874.7" width="39.5" height="7"/><text x="1473.75" y="879.8">on middle of</text></g>
<g id="jajaja-park2" class="n b"><rect x="1499.5" y="874.7" width="18" height="7"/><text x="1508.5" y="879.8">park</text></g>
<g id="jajaja-lush2" class="n r"><rect x="1524" y="874.7" width="17" height="7"/><text x="1532.5" y="879.8">lush</text></g>
<g id="jajaja-building" class="n b"><rect x="1422.5" y="880.7" width="24.5" height="7"/><text x="1434.75" y="885.8">building</text></g>
<g id="jajaja-white" class="n r"><rect x="1464" y="886.2" width="19.5" height="7"/><text x="1473.75" y="891.3">white</text></g>
<g id="jajaja-large" class="n r"><rect x="1464" y="897" width="19.5" height="7"/><text x="1473.75" y="902.1">large</text></g>

<g id="kokoko-trees" class="n b"><rect x="1689.5" y="869.3" width="20" height="7"/><text x="1699.5" y="874.4">trees</text></g>
<g id="kokoko-lawn" class="n b"><rect x="1693" y="880.3" width="16.5" height="7"/><text x="1701.25" y="885.4">lawn</text></g>
<g id="kokoko-surround1" class="n g"><rect x="1717" y="869.3" width="31.5" height="7"/><text x="1732.75" y="874.4">surround</text></g>
<g id="kokoko-surround2" class="n g"><rect x="1717" y="880.3" width="31.5" height="7"/><text x="1732.75" y="885.4">surround</text></g>
<g id="kokoko-building" class="n b"><rect x="1754" y="875.3" width="25" height="7"/><text x="1766.5" y="880.4">building</text></g>
<g id="kokoko-white" class="n r"><rect x="1783.5" y="869.3" width="20.5" height="7"/><text x="1793.75" y="874.4">white</text></g>
<g id="kokoko-large" class="n r"><rect x="1783.5" y="880.3" width="20.5" height="7"/><text x="1793.75" y="885.4">large</text></g>

<g id="defrru-trees" class="n b"><rect x="349.5" y="1108.5" width="21" height="7"/><text x="360" y="1113.6">trees</text></g>
<g id="defrru-grass" class="n b"><rect x="349.5" y="1119.5" width="21" height="7"/><text x="360" y="1124.6">grass</text></g>
<g id="defrru-greenery" class="n b"><rect x="345" y="1130.3" width="30.5" height="7"/><text x="360.25" y="1135.4">greenery</text></g>
<g id="defrru-surround1" class="n g"><rect x="381" y="1108.5" width="31.5" height="7"/><text x="396.75" y="1113.6">surround</text></g>
<g id="defrru-surround2" class="n g"><rect x="381" y="1119.5" width="31.5" height="7"/><text x="396.75" y="1124.6">surround</text></g>
<g id="defrru-surround3" class="n g"><rect x="381" y="1130.3" width="31.5" height="7"/><text x="396.75" y="1135.4">surround</text></g>
<g id="defrru-building" class="n b"><rect x="419" y="1119.5" width="24.5" height="7"/><text x="431.25" y="1124.6">building</text></g>
<g id="defrru-standon" class="n g"><rect x="450" y="1108.5" width="29.5" height="7"/><text x="464.75" y="1113.6">stand on</text></g>
<g id="defrru-hill" class="n b"><rect x="486.5" y="1108.5" width="12" height="7"/><text x="492.5" y="1113.6">hill</text></g>
<g id="defrru-white" class="n r"><rect x="455.5" y="1119.5" width="19" height="7"/><text x="465" y="1124.6">white</text></g>
<g id="defrru-large" class="n r"><rect x="455.5" y="1130.3" width="19" height="7"/><text x="465" y="1135.4">large</text></g>

<g id="endefr-trees" class="n b"><rect x="615" y="1113.7" width="21" height="7"/><text x="625.5" y="1118.8">trees</text></g>
<g id="endefr-greenery" class="n b"><rect x="609.5" y="1124.8" width="32" height="7"/><text x="625.5" y="1129.9">greenery</text></g>
<g id="endefr-surround1" class="n g"><rect x="646.5" y="1113.7" width="32" height="7"/><text x="662.5" y="1118.8">surround</text></g>
<g id="endefr-surround2" class="n g"><rect x="646.5" y="1124.8" width="32" height="7"/><text x="662.5" y="1129.9">surround</text></g>
<g id="endefr-building" class="n b"><rect x="684" y="1119.5" width="24.5" height="7"/><text x="696.25" y="1124.6">building</text></g>
<g id="endefr-standon" class="n g"><rect x="715" y="1108.5" width="29.5" height="7"/><text x="729.75" y="1113.6">stand on</text></g>
<g id="endefr-hill" class="n b"><rect x="752" y="1108.5" width="10" height="7"/><text x="757" y="1113.6">hill</text></g>
<g id="endefr-white" class="n r"><rect x="720.5" y="1119.5" width="19" height="7"/><text x="730" y="1124.6">white</text></g>
<g id="endefr-large" class="n r"><rect x="720.5" y="1130.3" width="19" height="7"/><text x="730" y="1135.4">large</text></g>

<g id="enzhfr-flowthrough" class="n g"><rect x="853.5" y="1099.8" width="42.5" height="7"/><text x="874.75" y="1104.9">flow through</text></g>
<g id="enzhfr-valley" class="n b"><rect x="901.5" y="1099.8" width="20" height="7"/><text x="911.5" y="1104.9">valley</text></g>
<g id="enzhfr-green" class="n r"><rect x="930" y="1094.3" width="20.5" height="7"/><text x="940.25" y="1099.4">green</text></g>
<g id="enzhfr-grassy" class="n r"><rect x="928.5" y="1105.3" width="24" height="7"/><text x="940.5" y="1110.4">grassy</text></g>
<g id="enzhfr-have" class="n g"><rect x="1005" y="1084.8" width="17.5" height="7"/><text x="1013.75" y="1089.9">have</text></g>
<g id="enzhfr-slope" class="n b"><rect x="1046.5" y="1089.8" width="18.5" height="7"/><text x="1055.75" y="1094.9">slope</text></g>
<g id="enzhfr-walkalong" class="n g"><rect x="996.5" y="1102.7" width="32" height="7"/><text x="1012.5" y="1107.8">walk along</text></g>
<g id="enzhfr-with" class="n g"><rect x="932.5" y="1116.5" width="16.5" height="7"/><text x="940.75" y="1121.6">with</text></g>
<g id="enzhfr-mountains" class="n b"><rect x="958.5" y="1116.5" width="32.5" height="7"/><text x="974.75" y="1121.6">mountains</text></g>
<g id="enzhfr-in" class="n g"><rect x="1009.5" y="1116.5" width="9.5" height="7"/><text x="1014.25" y="1121.6">in</text></g>
<g id="enzhfr-background" class="n b"><rect x="1037.5" y="1116.5" width="37.5" height="7"/><text x="1056.25" y="1121.6">background</text></g>
<g id="enzhfr-river" class="n b"><rect x="828.5" y="1123" width="20" height="7"/><text x="838.5" y="1128.1">river</text></g>
<g id="enzhfr-small" class="n r"><rect x="866" y="1128.2" width="17.5" height="7"/><text x="874.75" y="1133.3">small</text></g>
<g id="enzhfr-people" class="n b"><rect x="964" y="1128.2" width="21" height="7"/><text x="974.5" y="1133.3">people</text></g>
<g id="enzhfr-nextto" class="n g"><rect x="1000" y="1131.7" width="27.5" height="7"/><text x="1013.75" y="1136.8">next to</text></g>
<g id="enzhfr-standby" class="n g"><rect x="998.5" y="1143" width="31" height="7"/><text x="1014" y="1148.1">stand by</text></g>
<g id="enzhfr-stream" class="n b"><rect x="1043.5" y="1143" width="25" height="7"/><text x="1056" y="1148.1">stream</text></g>
<g id="enzhfr-groupof" class="n r"><rect x="998.5" y="1154" width="31" height="7"/><text x="1014" y="1159.1">group of</text></g>

<g id="enjade-trees" class="n b"><rect x="1130" y="1122" width="21" height="7"/><text x="1140.5" y="1127.1">trees</text></g>
<g id="enjade-surround" class="n g"><rect x="1156.5" y="1122" width="32" height="7"/><text x="1172.5" y="1127.1">surround</text></g>
<g id="enjade-building" class="n b"><rect x="1194" y="1122" width="24.5" height="7"/><text x="1206.25" y="1127.1">building</text></g>
<g id="enjade-ontopof" class="n g"><rect x="1225" y="1111" width="34.5" height="7"/><text x="1242.25" y="1116.1">on top of</text></g>
<g id="enjade-hill" class="n b"><rect x="1266" y="1111" width="8.5" height="7"/><text x="1270.25" y="1116.1">hill</text></g>
<g id="enjade-lush" class="n r"><rect x="1285.5" y="1105.3" width="15.5" height="7"/><text x="1293.25" y="1110.4">lush</text></g>
<g id="enjade-green" class="n r"><rect x="1282.5" y="1117" width="21" height="7"/><text x="1293" y="1122.1">green</text></g>
<g id="enjade-white" class="n r"><rect x="1233.5" y="1122" width="18" height="7"/><text x="1242.5" y="1127.1">white</text></g>
<g id="enjade-large" class="n r"><rect x="1233.5" y="1133.2" width="18" height="7"/><text x="1242.5" y="1138.3">large</text></g>

<g id="zhjako-trees" class="n b"><rect x="1395" y="1111" width="20" height="7"/><text x="1405" y="1116.1">trees</text></g>
<g id="zhjako-surround1" class="n g"><rect x="1421.5" y="1111" width="32" height="7"/><text x="1437.5" y="1116.1">surround</text></g>
<g id="zhjako-surround2" class="n g"><rect x="1421.5" y="1122" width="32" height="7"/><text x="1437.5" y="1127.1">surround</text></g>
<g id="zhjako-lawns" class="n b"><rect x="1396" y="1133.2" width="19" height="7"/><text x="1405.5" y="1138.3">lawns</text></g>
<g id="zhjako-green1" class="n r"><rect x="1426.5" y="1133.2" width="22" height="7"/><text x="1437.5" y="1138.3">green</text></g>
<g id="zhjako-building" class="n b"><rect x="1459.5" y="1122" width="24" height="7"/><text x="1471.5" y="1127.1">building</text></g>
<g id="zhjako-ontopof" class="n g"><rect x="1490" y="1111" width="34.5" height="7"/><text x="1507.25" y="1116.1">on top of</text></g>
<g id="zhjako-hill" class="n b"><rect x="1530.5" y="1111" width="8.5" height="7"/><text x="1534.75" y="1116.1">hill</text></g>
<g id="zhjako-lush" class="n r"><rect x="1550.5" y="1105.3" width="15.5" height="7"/><text x="1558.25" y="1110.4">lush</text></g>
<g id="zhjako-green2" class="n r"><rect x="1547.5" y="1117" width="21" height="7"/><text x="1558" y="1122.1">green</text></g>
<g id="zhjako-white" class="n r"><rect x="1497.5" y="1122" width="19" height="7"/><text x="1507" y="1127.1">white</text></g>
<g id="zhjako-large" class="n r"><rect x="1497.5" y="1133.2" width="19" height="7"/><text x="1507" y="1138.3">large</text></g>
</g>
</svg>
